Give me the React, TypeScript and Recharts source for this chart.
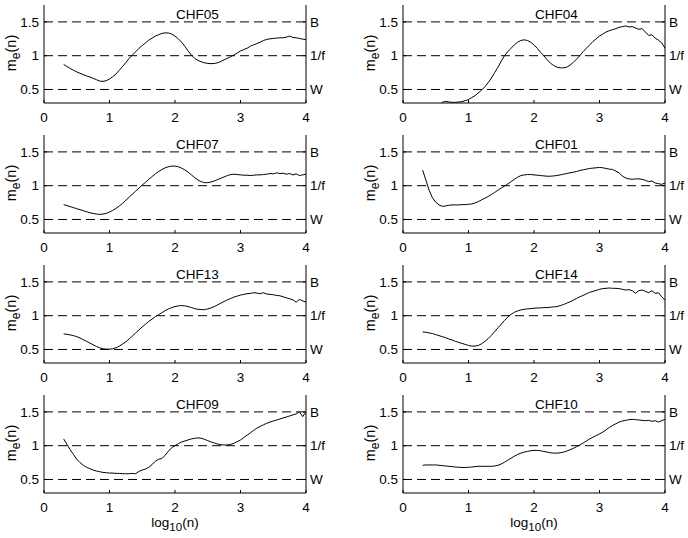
import React from "react";
import { LineChart, Line, XAxis, YAxis, ReferenceLine } from "recharts";

// log10(n) grid shared by every panel
const logN = [
  0.3, 0.35, 0.4, 0.45, 0.5, 0.55, 0.6, 0.65, 0.7, 0.75,
  0.8, 0.85, 0.9, 0.95, 1.0, 1.05, 1.1, 1.15, 1.2, 1.25,
  1.3, 1.35, 1.4, 1.45, 1.5, 1.55, 1.6, 1.65, 1.7, 1.75,
  1.8, 1.85, 1.9, 1.95, 2.0, 2.05, 2.1, 2.15, 2.2, 2.25,
  2.3, 2.35, 2.4, 2.45, 2.5, 2.55, 2.6, 2.65, 2.7, 2.75,
  2.8, 2.85, 2.9, 2.95, 3.0, 3.05, 3.1, 3.15, 3.2, 3.25,
  3.3, 3.35, 3.4, 3.45, 3.5, 3.55, 3.6, 3.65, 3.7, 3.75,
  3.8, 3.85, 3.9, 3.95, 4.0,
];

const chf05 = [
  0.87, 0.84, 0.81, 0.785, 0.76, 0.74, 0.72, 0.7, 0.685, 0.665,
  0.645, 0.625, 0.62, 0.63, 0.655, 0.69, 0.73, 0.785, 0.84, 0.9,
  0.96, 1.01, 1.06, 1.11, 1.15, 1.19, 1.23, 1.26, 1.29, 1.31,
  1.33, 1.338, 1.335, 1.32, 1.29, 1.25, 1.2, 1.14, 1.07, 1.01,
  0.96, 0.93, 0.91, 0.895, 0.885, 0.882, 0.885, 0.895, 0.915, 0.94,
  0.96, 0.985, 1.01, 1.04, 1.07, 1.09, 1.11, 1.14, 1.16, 1.18,
  1.2, 1.225, 1.24, 1.25, 1.255, 1.26, 1.265, 1.265, 1.275, 1.29,
  1.27, 1.265, 1.255, 1.245, 1.235,
];

const chf04 = [
  0.1, 0.12, 0.14, 0.17, 0.21, 0.26, 0.31, 0.325, 0.315, 0.31,
  0.31, 0.315, 0.32, 0.335, 0.35, 0.38, 0.41, 0.45, 0.49, 0.54,
  0.6, 0.67, 0.75, 0.83, 0.92, 1.0, 1.06, 1.11, 1.16, 1.2,
  1.225, 1.235, 1.225, 1.2, 1.16, 1.11, 1.05, 1.0, 0.94, 0.89,
  0.855, 0.83, 0.82, 0.82, 0.83, 0.86, 0.9, 0.95, 1.0, 1.06,
  1.11, 1.16, 1.21, 1.25, 1.29, 1.32, 1.35, 1.37, 1.385, 1.4,
  1.42, 1.43, 1.44, 1.425, 1.43, 1.41, 1.39, 1.4, 1.35, 1.3,
  1.31, 1.26, 1.23, 1.19, 1.11,
];

const chf07 = [
  0.72, 0.705, 0.69, 0.675, 0.66, 0.645, 0.63, 0.615, 0.6, 0.59,
  0.58, 0.575, 0.58, 0.59, 0.61, 0.635, 0.665, 0.7, 0.74, 0.785,
  0.83, 0.875, 0.92, 0.965, 1.01, 1.05, 1.095, 1.135, 1.175, 1.21,
  1.24, 1.265, 1.28, 1.29, 1.29, 1.28, 1.26, 1.235, 1.2, 1.16,
  1.12, 1.085, 1.06, 1.045, 1.045, 1.055, 1.07, 1.09, 1.11, 1.13,
  1.15, 1.165, 1.17, 1.165, 1.16, 1.155, 1.155, 1.15, 1.155, 1.16,
  1.16, 1.165, 1.17, 1.18, 1.175, 1.19, 1.18, 1.185, 1.17, 1.18,
  1.16, 1.175, 1.15, 1.16, 1.17,
];

const chf01 = [
  1.23, 1.08, 0.93, 0.82, 0.755, 0.715, 0.695, 0.7, 0.71, 0.715,
  0.715, 0.715, 0.72, 0.72, 0.725, 0.73, 0.745, 0.765, 0.79, 0.815,
  0.84, 0.87, 0.9, 0.935, 0.965, 0.995, 1.025, 1.06, 1.095, 1.125,
  1.15, 1.16, 1.165, 1.165, 1.16, 1.155, 1.15, 1.145, 1.14, 1.14,
  1.145, 1.15, 1.16, 1.17, 1.18, 1.19, 1.2, 1.21, 1.225, 1.235,
  1.245, 1.255, 1.26, 1.265, 1.27, 1.265, 1.255, 1.245, 1.24, 1.215,
  1.19, 1.14, 1.115, 1.1, 1.095, 1.1, 1.1, 1.095, 1.08, 1.06,
  1.07, 1.04, 1.03, 1.02, 1.04,
];

const chf13 = [
  0.73, 0.725, 0.715, 0.705, 0.69, 0.67, 0.645, 0.62, 0.595, 0.57,
  0.545, 0.525, 0.51, 0.505, 0.505, 0.51, 0.525, 0.55, 0.58, 0.615,
  0.655, 0.7, 0.745, 0.79, 0.835, 0.875, 0.915, 0.95, 0.985, 1.015,
  1.045, 1.075, 1.1, 1.12, 1.135, 1.145, 1.15, 1.145, 1.135, 1.12,
  1.105, 1.095, 1.09, 1.09, 1.1, 1.115, 1.135, 1.16, 1.185, 1.21,
  1.235, 1.255, 1.275, 1.29, 1.305, 1.315, 1.325, 1.33, 1.34, 1.335,
  1.325, 1.34, 1.32, 1.315, 1.31, 1.3, 1.295, 1.28, 1.265, 1.25,
  1.235, 1.2, 1.24, 1.22, 1.2,
];

const chf14 = [
  0.76, 0.755, 0.745, 0.735, 0.72, 0.705, 0.69, 0.675, 0.655, 0.64,
  0.62, 0.605, 0.59, 0.575, 0.56, 0.55, 0.55, 0.56, 0.585, 0.62,
  0.66, 0.71, 0.765, 0.82, 0.875, 0.93, 0.98, 1.02, 1.05, 1.07,
  1.085, 1.095, 1.1, 1.105, 1.11, 1.115, 1.115, 1.12, 1.12, 1.125,
  1.13, 1.135, 1.15, 1.165, 1.185, 1.205, 1.23, 1.255, 1.28, 1.3,
  1.325, 1.345, 1.36, 1.375, 1.39, 1.4, 1.405, 1.41, 1.405, 1.405,
  1.4, 1.39, 1.38, 1.385, 1.37, 1.33, 1.37, 1.38, 1.36, 1.34,
  1.37, 1.33, 1.34, 1.28, 1.23,
];

const chf09 = [
  1.1, 1.02, 0.94, 0.87, 0.8, 0.75, 0.71, 0.68, 0.66, 0.64,
  0.625, 0.615, 0.605, 0.6, 0.595, 0.595, 0.59, 0.59, 0.585, 0.585,
  0.585, 0.59, 0.585, 0.62, 0.64, 0.655, 0.68, 0.72, 0.77, 0.8,
  0.81, 0.86, 0.92, 0.97, 1.0, 1.03, 1.055, 1.07, 1.085, 1.1,
  1.11, 1.115, 1.11, 1.095, 1.075, 1.055, 1.04, 1.025, 1.015, 1.01,
  1.01, 1.02, 1.035, 1.06, 1.085, 1.12, 1.155, 1.19, 1.225, 1.26,
  1.285, 1.31, 1.33, 1.35, 1.365, 1.38, 1.395, 1.41, 1.425, 1.44,
  1.455, 1.47, 1.5, 1.43, 1.5,
];

const chf10 = [
  0.71, 0.715, 0.715, 0.715, 0.715, 0.71, 0.705, 0.7, 0.695, 0.69,
  0.685, 0.68, 0.678, 0.678, 0.68, 0.685, 0.69, 0.695, 0.695, 0.695,
  0.695, 0.695, 0.7, 0.71, 0.73, 0.755, 0.785, 0.815, 0.845, 0.87,
  0.89, 0.905, 0.915, 0.925, 0.93, 0.93, 0.925, 0.915, 0.905, 0.895,
  0.89, 0.89, 0.895, 0.905, 0.92, 0.94, 0.96, 0.985, 1.01, 1.04,
  1.07, 1.1, 1.125, 1.15, 1.175, 1.2, 1.235, 1.27, 1.3, 1.325,
  1.35, 1.365, 1.375, 1.385, 1.39, 1.385, 1.38, 1.375, 1.37, 1.375,
  1.36, 1.37, 1.35, 1.37, 1.39,
];

const xTicks = [0, 1, 2, 3, 4];
const yTicks = [0.5, 1, 1.5];
const rightLabels: Record<string, string> = { "0.5": "W", "1": "1/f", "1.5": "B" };

const panels = [
  { name: "CHF05", values: chf05 },
  { name: "CHF04", values: chf04 },
  { name: "CHF07", values: chf07 },
  { name: "CHF01", values: chf01 },
  { name: "CHF13", values: chf13 },
  { name: "CHF14", values: chf14 },
  { name: "CHF09", values: chf09 },
  { name: "CHF10", values: chf10 },
];

const FONT = "'Liberation Sans', Arial, Helvetica, sans-serif";
const ROW_H = 130;
const TOP = 5;
const LEFT = 44;
const PLOT_W = 262;
const PLOT_H = 98;
const COL_X = [0, 359];
const COL_W = [344, 329];

const tickStyle = { fill: "#000", fontSize: 13.5, fontFamily: FONT };

function Panel({ values, col, row }: { values: number[]; col: number; row: number }) {
  const data = logN.map((x, i) => ({ x, m: values[i] }));
  const w = COL_W[col];
  return (
    <div style={{ position: "absolute", left: COL_X[col], top: row * ROW_H }}>
      <LineChart width={w} height={ROW_H} data={data} margin={{ top: TOP, right: 0, bottom: 0, left: 0 }}>
        <XAxis
          xAxisId="b"
          dataKey="x"
          type="number"
          domain={[0, 4]}
          ticks={xTicks}
          allowDataOverflow
          height={ROW_H - TOP - PLOT_H}
          tickSize={-3}
          tickMargin={12}
          stroke="#000"
          tick={tickStyle}
        />
        <XAxis
          xAxisId="t"
          orientation="top"
          dataKey="x"
          type="number"
          domain={[0, 4]}
          ticks={xTicks}
          height={0}
          tickSize={-3}
          tickFormatter={() => ""}
          stroke="#000"
        />
        <YAxis
          yAxisId="l"
          domain={[0.3, 1.75]}
          ticks={yTicks}
          allowDataOverflow
          width={LEFT}
          tickSize={-3}
          tickMargin={8}
          stroke="#000"
          tick={tickStyle}
        />
        <YAxis
          yAxisId="r"
          orientation="right"
          domain={[0.3, 1.75]}
          ticks={yTicks}
          allowDataOverflow
          width={w - LEFT - PLOT_W}
          tickSize={-3}
          tickMargin={7}
          stroke="#000"
          tick={tickStyle}
          tickFormatter={(v) => rightLabels[String(v)]}
        />
        {yTicks.map((v) => (
          <ReferenceLine key={v} xAxisId="b" yAxisId="l" y={v} stroke="#000" strokeDasharray="9 5" />
        ))}
        <Line
          xAxisId="b"
          yAxisId="l"
          dataKey="m"
          type="linear"
          stroke="#000"
          strokeWidth={1}
          dot={false}
          isAnimationActive={false}
        />
      </LineChart>
    </div>
  );
}

function App() {
  return (
    <div style={{ position: "absolute", left: 0, top: 0, width: 688, height: 538, background: "#fff", fontFamily: FONT }}>
      {panels.map((p, i) => (
        <Panel key={p.name} values={p.values} col={i % 2} row={Math.floor(i / 2)} />
      ))}
      <svg width={688} height={538} style={{ position: "absolute", left: 0, top: 0, pointerEvents: "none" }}>
        {panels.map((p, i) => {
          const col = i % 2;
          const row = Math.floor(i / 2);
          const px = COL_X[col] + LEFT;
          const py = row * ROW_H + TOP;
          const lx = px - 28.5;
          const ly = py + 48;
          return (
            <g key={p.name} fontFamily={FONT} fill="#000">
              <text x={px + PLOT_W / 2 + 1} y={py + 13.5} fontSize={13.5}>
                {p.name}
              </text>
              <text x={lx} y={ly} fontSize={14.5} textAnchor="middle" transform={`rotate(-90 ${lx} ${ly})`}>
                m
                <tspan fontSize={12} dy={4}>e</tspan>
                <tspan dy={-4}>(n)</tspan>
              </text>
              {row === 3 && (
                <text x={px + PLOT_W / 2} y={527} fontSize={13.5} textAnchor="middle">
                  log
                  <tspan fontSize={11.5} dy={4}>10</tspan>
                  <tspan dy={-4}>(n)</tspan>
                </text>
              )}
            </g>
          );
        })}
      </svg>
    </div>
  );
}

export default App;
